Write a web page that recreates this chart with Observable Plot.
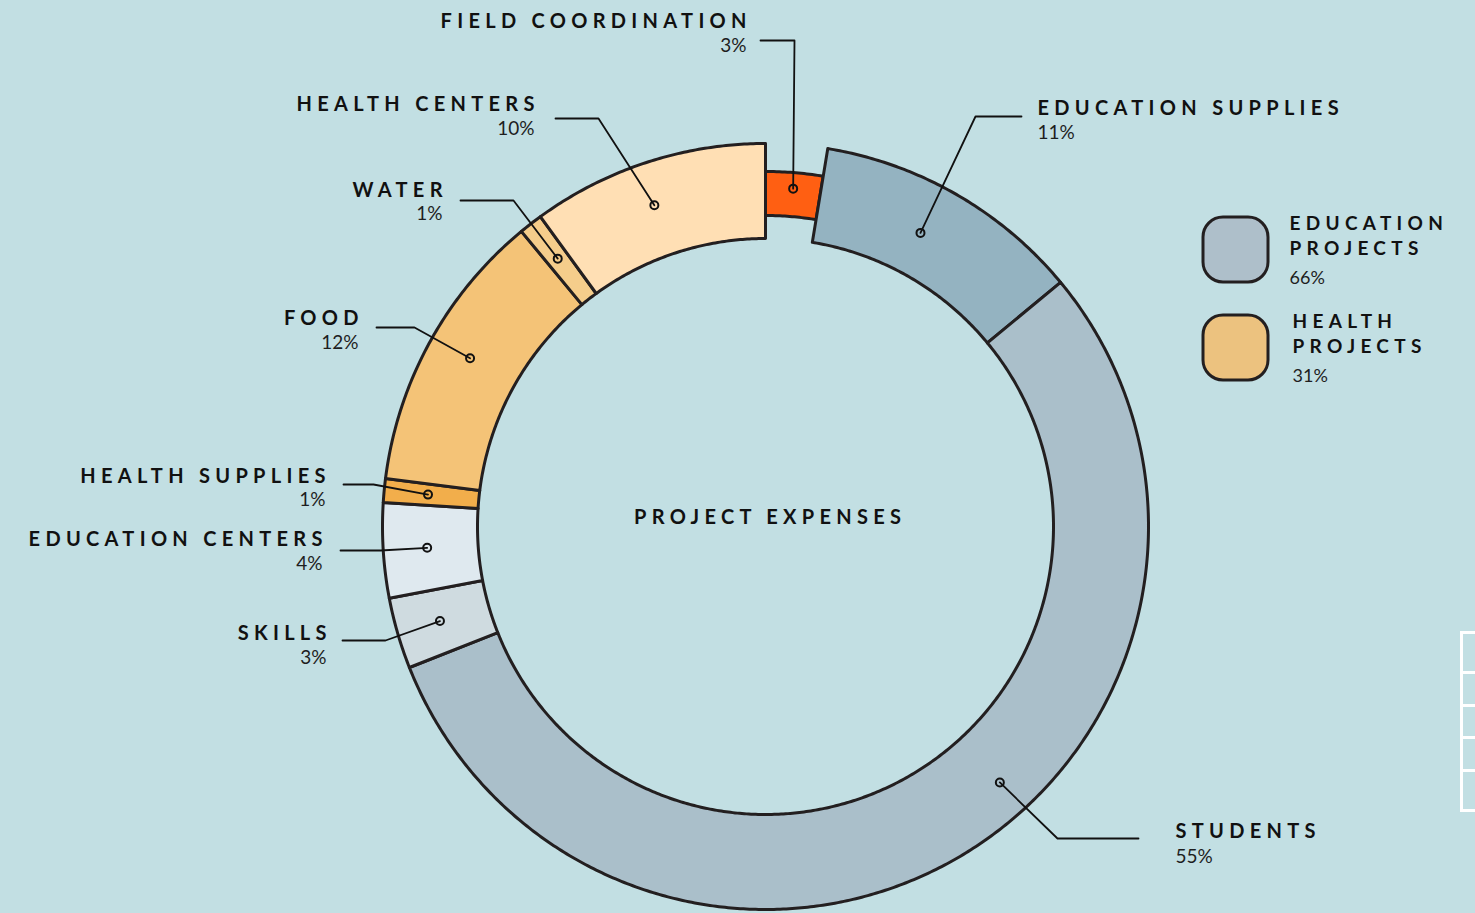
<!DOCTYPE html>
<html>
<head>
<meta charset="utf-8">
<script src="https://cdn.jsdelivr.net/npm/d3@7"></script>
<script src="https://cdn.jsdelivr.net/npm/@observablehq/plot@0.6"></script>
<style>
  html, body { margin: 0; padding: 0; background: #c2dfe3; }
  #wrap { position: relative; width: 1475px; height: 913px; overflow: hidden; background: #c2dfe3; }
  #wrap svg { background: transparent !important; }
  svg g[font-weight="bold"] text { letter-spacing: 5.3px; }
  .deco { position: absolute; background: #ffffff; }
</style>
</head>
<body>
<div id="wrap"></div>
<script>
// ---------- DATA ----------
const segments = ["FIELD COORDINATION", "EDUCATION SUPPLIES", "STUDENTS", "SKILLS",
                  "EDUCATION CENTERS", "HEALTH SUPPLIES", "FOOD", "WATER", "HEALTH CENTERS"];
const shares = [2.6, 11.4, 55, 3, 4, 1, 12, 1, 10];            // % of project expenses
const shareLabels = ["3%", "11%", "55%", "3%", "4%", "1%", "12%", "1%", "10%"];
const groups = ["EDUCATION\nPROJECTS", "HEALTH\nPROJECTS"];
const groupShares = ["66%", "31%"];
const centerTitle = "PROJECT EXPENSES";

// ---------- STYLE / LAYOUT ----------
const colors = {
  "FIELD COORDINATION": "#ff5f12",
  "EDUCATION SUPPLIES": "#94b3c1",
  "STUDENTS": "#aabfca",
  "SKILLS": "#cfdbe0",
  "EDUCATION CENTERS": "#dfe9ef",
  "HEALTH SUPPLIES": "#f2ae4b",
  "FOOD": "#f4c377",
  "WATER": "#f5cd8b",
  "HEALTH CENTERS": "#ffdfb4"
};
const groupColors = ["#aebfca", "#ecc27f"];
const INK = "#231f20";
const W = 1475, H = 913, cx = 765, cy = 526, R0 = 288, R1 = 383;
const band = { "FIELD COORDINATION": [311, 355] };
const dotAt = {                                               // [fraction of slice, radius]
  "STUDENTS": [0.44, 347], "EDUCATION SUPPLIES": [0.45, 332],
  "HEALTH CENTERS": [0.47, 340], "FOOD": [0.52, 340]
};
// leader/label layout in page pixels
const leaders = {
  "FIELD COORDINATION": { elbow: [794, 40],  end: [760, 40],   tx: 746,  nameY: 21,  pctY: 45 },
  "EDUCATION SUPPLIES": { elbow: [975, 116], end: [1021, 116], tx: 1037, nameY: 108, pctY: 132 },
  "STUDENTS":           { elbow: [1057, 838], end: [1138, 838], tx: 1175, nameY: 831, pctY: 856 },
  "SKILLS":             { elbow: [385, 640], end: [342, 640],  tx: 326,  nameY: 633, pctY: 657 },
  "EDUCATION CENTERS":  { elbow: [380, 550], end: [340, 550],  tx: 322,  nameY: 539, pctY: 563 },
  "HEALTH SUPPLIES":    { elbow: [373, 484], end: [343, 484],  tx: 325,  nameY: 476, pctY: 499 },
  "FOOD":               { elbow: [414, 327], end: [376, 327],  tx: 358,  nameY: 318, pctY: 342 },
  "WATER":              { elbow: [513, 200], end: [460, 200],  tx: 442,  nameY: 190, pctY: 213 },
  "HEALTH CENTERS":     { elbow: [598, 118], end: [555, 118],  tx: 534,  nameY: 104, pctY: 128 }
};
const LS = 5.3, FS = 20, PFS = 19;

// ---------- GEOMETRY (from data) ----------
const X = px => px - cx, Y = py => cy - py;
const total = d3.sum(shares);
let acc = 0;
const slices = segments.map((name, i) => {
  const a0 = acc / total * 2 * Math.PI; acc += shares[i];
  const a1 = acc / total * 2 * Math.PI;
  return { name, i, a0, a1, share: shares[i], label: shareLabels[i] };
});
function arcPoints(s) {
  const [ri, ro] = band[s.name] || [R0, R1];
  const n = Math.max(4, Math.ceil((s.a1 - s.a0) / 0.008));
  const pts = [];
  for (let k = 0; k <= n; k++) { const a = s.a0 + (s.a1 - s.a0) * k / n; pts.push({ x: ro * Math.sin(a), y: ro * Math.cos(a) }); }
  for (let k = n; k >= 0; k--) { const a = s.a0 + (s.a1 - s.a0) * k / n; pts.push({ x: ri * Math.sin(a), y: ri * Math.cos(a) }); }
  return pts;
}
const dots = slices.map(s => {
  const [f, r] = dotAt[s.name] || [0.5, 339];
  const a = s.a0 + (s.a1 - s.a0) * f;
  return { name: s.name, x: r * Math.sin(a), y: r * Math.cos(a) };
});
const leaderLines = slices.map((s, i) => {
  const L = leaders[s.name];
  return [ { x: dots[i].x, y: dots[i].y }, { x: X(L.elbow[0]), y: Y(L.elbow[1]) }, { x: X(L.end[0]), y: Y(L.end[1]) } ];
});
const labelRows = slices.map(s => {
  const L = leaders[s.name];
  const left = L.tx < L.end[0];
  return { name: s.name, pct: s.label, anchor: left ? "end" : "start",
           x: X(left ? L.tx + LS : L.tx), xp: X(L.tx),
           yName: Y(L.nameY), yPct: Y(L.pctY) };
});

// legend (drawn as marks)
const legendRows = groups.map((g, i) => ({
  g, share: groupShares[i], color: groupColors[i],
  x1: X(1203), x2: X(1268), y1: Y(217 + 98 * i), y2: Y(282 + 98 * i),
  tx: X(1289 + 3 * i), ty1: Y(223 + 98 * i), ty2: Y(248 + 98 * i), ty3: Y(278 + 98 * i)
}));

const FONT = "Lato, 'Noto Sans', sans-serif";
const marks = [];
slices.forEach(s => {
  marks.push(Plot.line(arcPoints(s), { x: "x", y: "y", fill: colors[s.name], stroke: INK, strokeWidth: 3, curve: "linear-closed" }));
});
leaderLines.forEach(pts => marks.push(Plot.line(pts, { x: "x", y: "y", stroke: "#111", strokeWidth: 1.8 })));
marks.push(Plot.dot(dots, { x: "x", y: "y", r: 4, stroke: "#111", strokeWidth: 2, fill: "none" }));
["end", "start"].forEach(anchor => {
  const rows = labelRows.filter(d => d.anchor === anchor);
  marks.push(Plot.text(rows, { x: "x", y: "yName", text: "name", textAnchor: anchor, fontSize: FS, fontWeight: "bold", fontFamily: FONT, fill: "#111" }));
  marks.push(Plot.text(rows, { x: "xp", y: "yPct", text: "pct", textAnchor: anchor, fontSize: PFS, fontWeight: "normal", fontFamily: FONT, fill: "#1e1e1e" }));
});
marks.push(Plot.text([centerTitle], { x: () => X(767 + LS / 2), y: () => Y(517), text: d => d, textAnchor: "middle", fontSize: FS, fontWeight: "bold", fontFamily: FONT, fill: "#111" }));
marks.push(Plot.rect(legendRows, { x1: "x1", x2: "x2", y1: "y1", y2: "y2", fill: "color", stroke: INK, strokeWidth: 3, rx: 20 }));
marks.push(Plot.text(legendRows, { x: "tx", y: "ty1", text: d => d.g.split("\n")[0], textAnchor: "start", fontSize: 19, fontWeight: "bold", fontFamily: FONT, fill: "#111" }));
marks.push(Plot.text(legendRows, { x: "tx", y: "ty2", text: d => d.g.split("\n")[1], textAnchor: "start", fontSize: 19, fontWeight: "bold", fontFamily: FONT, fill: "#111" }));
marks.push(Plot.text(legendRows, { x: "tx", y: "ty3", text: "share", textAnchor: "start", fontSize: 18, fontWeight: "normal", fontFamily: FONT, fill: "#1e1e1e" }));

const chart = Plot.plot({
  width: W, height: H, margin: 0,
  x: { domain: [X(0), X(W)], axis: null },
  y: { domain: [Y(H), Y(0)], axis: null },
  color: { type: "identity" },
  style: { background: "transparent", overflow: "visible" },
  marks
});
const wrap = document.getElementById("wrap");
wrap.appendChild(chart);

// cropped decorative frame at right edge (partially visible element of the page)
[[1460, 631, 3, 181], [1460, 631, 15, 3], [1460, 671, 15, 3], [1460, 704, 15, 3], [1460, 736, 15, 3], [1460, 769, 15, 3], [1460, 809, 15, 3]]
  .forEach(([l, t, w, h]) => { const d = document.createElement("div"); d.className = "deco"; Object.assign(d.style, { left: l + "px", top: t + "px", width: w + "px", height: h + "px" }); wrap.appendChild(d); });
</script>
</body>
</html>
